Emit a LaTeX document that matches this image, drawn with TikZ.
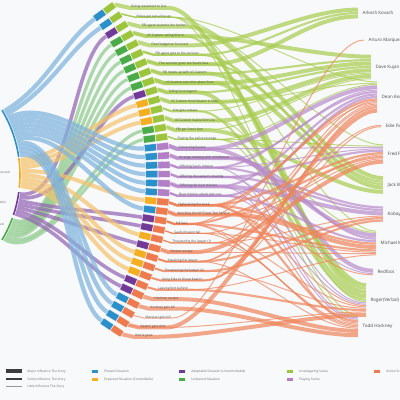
\documentclass[tikz,border=0pt]{standalone}
\usepackage{fontspec}
\setmainfont{Open Sans}
\usetikzlibrary{calc,positioning}

\definecolor{bgcol}{HTML}{F8F9FB}
\definecolor{sitP}{HTML}{2B8FCA}
\definecolor{sitE}{HTML}{F3AE22}
\definecolor{sitA}{HTML}{713A97}
\definecolor{sitU}{HTML}{4AAB47}
\definecolor{typI}{HTML}{9CC43C}
\definecolor{typY}{HTML}{B27EC6}
\definecolor{typX}{HTML}{EE7B4F}
\definecolor{flP}{HTML}{7FB3DD}
\definecolor{flE}{HTML}{F5C46C}
\definecolor{flA}{HTML}{9466B5}
\definecolor{flU}{HTML}{8FCB8C}
\definecolor{flI}{HTML}{A8CC4E}
\definecolor{flY}{HTML}{B88BCA}
\definecolor{flX}{HTML}{F0845A}
\definecolor{lbltext}{HTML}{4A4A4A}
\definecolor{legtext}{HTML}{6B6B6B}
\definecolor{legdark}{HTML}{3C3C3C}

\pgfdeclarelayer{back}
\pgfdeclarelayer{flows}
\pgfsetlayers{back,flows,main}

\tikzset{
  halfbox/.style={rectangle, minimum width=12pt, minimum height=7pt, inner sep=0pt, draw=white, line width=0.3pt},
  scenelbl/.style={anchor=west, inner sep=0.5pt, text=lbltext, font=\fontsize{3.2}{3.6}\selectfont},
  charlbl/.style={anchor=west, inner sep=0.5pt, text=lbltext, font=\fontsize{4.5}{5}\selectfont},
  arclbl/.style={anchor=east, inner sep=0pt, text=legtext, font=\fontsize{3.2}{3.6}\selectfont},
  legtxt/.style={inner sep=0pt, text=legtext, font=\fontsize{3.2}{3.6}\selectfont},
  swatch/.style={rectangle, minimum width=6pt, minimum height=3pt, inner sep=0pt},
  sitarc/.style={line width=1.6pt},
  leftflow/.style={opacity=0.72},
  bandP/.style={draw=flP, line width=4.2pt},
  bandE/.style={draw=flE, line width=4pt},
  bandA/.style={draw=flA, line width=3.6pt},
  bandU/.style={draw=flU, line width=3.2pt},
  rightflow/.style={line join=round, opacity=0.7},
}

% scene / character / weight (1 little, 2 some, 3 major)
\def\flowlist{1/K/3, 2/D/1, 2/F/1, 2/I/1, 2/L/1, 3/G/3, 4/C/3, 4/K/2,
  5/A/3, 6/A/2, 6/G/2, 7/A/3, 7/G/2, 8/C/2, 8/G/3, 9/C/3, 9/K/3,
  10/C/2, 10/K/3, 11/C/3, 11/D/1, 12/C/1, 12/K/2, 13/C/3, 13/K/1,
  14/C/1, 14/G/3, 15/D/1, 15/F/1, 15/I/1, 15/L/1, 16/D/3, 16/F/1, 16/I/3,
  17/D/1, 17/I/2, 17/J/3, 18/D/2, 18/F/1, 18/H/2, 18/L/1, 19/F/2, 19/H/2, 19/K/1,
  20/D/2, 20/H/3, 20/J/1, 20/L/1, 21/D/2, 21/I/2, 21/K/1,
  22/D/2, 22/F/2, 22/I/2, 22/K/1, 22/L/2, 23/D/1, 23/F/1, 23/I/3, 23/J/1, 23/L/1,
  24/D/1, 24/F/2, 24/I/2, 24/K/1, 24/L/1, 25/F/1, 25/I/1, 25/L/1,
  26/D/1, 26/H/1, 26/L/1, 27/F/3, 27/I/1, 28/D/1, 28/E/1, 28/H/2, 28/L/1,
  29/H/2, 29/K/1, 30/D/2, 30/E/1, 31/I/1, 31/K/2, 32/L/3, 33/L/3, 34/B/1,
  35/D/3, 35/K/1, 36/K/3}

\begin{document}
\begin{tikzpicture}[x=1pt,y=-1pt]
    \useasboundingbox (0,0) rectangle (400,400);
    \begin{pgfonlayer}{back}
        \fill[bgcol] (0,0) rectangle (400,400);
    \end{pgfonlayer}

    % Situation arc
    \begin{scope}[shift={(-106,175)}]
        \draw[sitarc, sitP] (-31:126) arc[start angle=-31, end angle=-8.2, radius=126];
        \draw[sitarc, sitE] (-7.7:126) arc[start angle=-7.7, end angle=5.9, radius=126];
        \draw[sitarc, sitA] (7.8:126) arc[start angle=7.8, end angle=18.5, radius=126];
        \draw[sitarc, sitU] (20:126) arc[start angle=20, end angle=31, radius=126];
    \end{scope}
    \node[arclbl] (lbE) at (10,173) {Expected};
    \node[arclbl] (lbA) at (6,203) {Adaptable};
    \node[arclbl] (lbU) at (4,225) {Unplaned};

    % Scenes
    \foreach \i/\sit/\typ/\ang/\txt in {
        1/P/I/-30.12/Giving statement to D.A.,
        2/P/I/-28.37/Police got out a line up,
        3/A/I/8.56/FBI agent examine the harbor,
        4/U/I/20.69/US Custom calling Kint in,
        5/U/I/22.06/One Hungarian Survived,
        6/U/I/23.44/FBI agent gets to the survivor,
        7/U/I/24.81/The survivor gives out Soze's face,
        8/U/I/26.19/FBI meets up with US Custom,
        9/U/I/27.56/US Custom asks Kint about Soze,
        10/A/I/10.09/Telling Soze legend,
        11/E/I/-6.85/US Custom think Keaton is Soze,
        12/E/I/-5.15/Kint gets release,
        13/E/I/-3.45/US Custom realize Kint's lie,
        14/U/I/28.94/FBI get Soze's face,
        15/U/I/30.31/Playing the police revenge,
        16/P/Y/-26.61/Contacting Keaton,
        17/P/Y/-24.86/Arrange meeting with middleman,
        18/P/Y/-23.10/Offering Saul's mission,
        19/P/Y/-21.35/Offering the lawyer's meeting,
        20/P/Y/-19.60/Offering the boat mission,
        21/P/Y/-17.84/Boat mission attack plan out,
        22/E/X/-1.75/Highjacking the truck,
        23/P/X/-16.09/Attacking the NY Finest Taxi Service,
        24/A/X/11.62/Kill Saul,
        25/A/X/13.15/Saul's mission fail,
        26/E/X/-0.05/Threatening the lawyer (1),
        27/A/X/14.68/Fenster escape,
        28/E/X/1.65/Attacking the lawyer,
        29/E/X/3.35/Threatening the lawyer (2),
        30/E/X/5.05/Using Edie to threat Keaton,
        31/A/X/16.21/Leaving Kint behind,
        32/A/X/17.74/Hockney escape,
        33/P/X/-14.33/Hockney gets kill,
        34/P/X/-12.58/Marquez gets kill,
        35/P/X/-10.83/Keaton gets shot,
        36/P/X/-9.07/Kint is gone} {
        \pgfmathsetmacro\sy{7+(\i-1)*9.4}
        \pgfmathsetmacro\cy{175+0.96*(\sy-175)-2}
        \pgfmathsetmacro\ps{asin((\cy-175)/276)}
        \pgfmathsetmacro\rt{-\ps}
        \pgfmathsetmacro\cx{-118+276*cos(\ps)}
        \pgfmathsetmacro\sx{-135+100*sqrt(3.14*3.14-((\sy-175)/100)^2)}
        \node[halfbox, fill=sit\sit, rotate=\rt, anchor=east] (a\i) at (\cx,\cy) {};
        \node[halfbox, fill=typ\typ, rotate=\rt, anchor=west] (b\i) at (\cx,\cy) {};
        \node[scenelbl] (t\i) at (\sx,\sy) {\txt};
        \coordinate (l\i) at ($(-106,175)+(\ang:127.5)$);
        \expandafter\xdef\csname ty\i\endcsname{\typ}
        \expandafter\xdef\csname st\i\endcsname{\sit}
        \expandafter\xdef\csname ps\i\endcsname{\ps}
        \expandafter\xdef\csname an\i\endcsname{\ang}
    }

    % Characters
    \foreach \ch/\x/\y/\name in {A/362/13/Arkosh Kovach, B/368/40/Arturo Marquez,
        C/375/67/Dave Kujan, D/381/97/Dean Keaton, E/385/126/Edie Finneran,
        F/387/154/Fred Fenster, G/387/185/Jack Baer, H/387/214/Kobayashi,
        I/380/243/Michael McManus, J/377/272/Redfoot, K/370/300/Roger(Verbal) Kint,
        L/362/326/Todd Hockney}
        \node[charlbl] (ch\ch) at (\x,\y) {\name};

    \begin{pgfonlayer}{flows}
        % Situation -> scene
        \foreach \i in {1,...,36} {
            \edef\st{\csname st\i\endcsname}
            \edef\ps{\csname ps\i\endcsname}
            \edef\ang{\csname an\i\endcsname}
            \draw[leftflow, band\st] (l\i) .. controls +(\ang:50) and +(\ps+180:40) .. (a\i.west);
        }
        % Scene -> character
        \foreach \ch in {A,B,C,D,E,F,G,H,I,J,K,L}
            \expandafter\xdef\csname tot\ch\endcsname{0};
        \foreach \sc/\ch/\w in \flowlist {
            \pgfmathsetmacro\lw{{0,1,2.2,4}[\w]}
            \pgfmathsetmacro\nt{\csname tot\ch\endcsname+\lw+0.3}
            \expandafter\xdef\csname tot\ch\endcsname{\nt}
        }
        \foreach \ch in {A,B,C,D,E,F,G,H,I,J,K,L} {
            \pgfmathsetmacro\nt{-(\csname tot\ch\endcsname-0.3)/2}
            \expandafter\xdef\csname acc\ch\endcsname{\nt}
        }
        \foreach \sc/\ch/\w in \flowlist {
            \pgfmathsetmacro\lw{{0,1,2.2,4}[\w]}
            \pgfmathsetmacro\md{\csname acc\ch\endcsname+\lw/2}
            \pgfmathsetmacro\nt{\csname acc\ch\endcsname+\lw+0.3}
            \expandafter\xdef\csname acc\ch\endcsname{\nt}
            \edef\ty{\csname ty\sc\endcsname}
            \draw[rightflow, draw=fl\ty, line width=\lw pt] (b\sc.east) -- ($(t\sc.west)+(-1,0.8)$)
                -- ($(t\sc.east)+(1,0.8)$) .. controls +(55,0) and +(-55,0) .. ($(ch\ch.west)+(-4,\md)$);
        }
    \end{pgfonlayer}

    % Legend
    \node[fill=legdark, minimum width=16pt, minimum height=4.4pt, inner sep=0pt] (lgMajor) at (14,371.2) {};
    \node[fill=legdark, minimum width=16pt, minimum height=2.2pt, inner sep=0pt] (lgSome) at (14,379.2) {};
    \node[fill=legtext!70, minimum width=16pt, minimum height=0.6pt, inner sep=0pt] (lgLittle) at (14,386.5) {};
    \node[legtxt, right=5pt of lgMajor] {Major Influence The Story};
    \node[legtxt, right=5pt of lgSome] {Some Influence The Story};
    \node[legtxt, right=5pt of lgLittle] {Little Influence The Story};

    \node[swatch, fill=sitP] (swP) at (95,371.5) {};
    \node[swatch, fill=sitE] (swE) at (95,379.5) {};
    \node[swatch, fill=sitA] (swA) at (182,371.5) {};
    \node[swatch, fill=sitU] (swU) at (182,379.5) {};
    \node[swatch, fill=typI] (swI) at (290,371.5) {};
    \node[swatch, fill=typY] (swY) at (290,379.5) {};
    \node[swatch, fill=typX] (swX) at (377,371.5) {};
    \node[legtxt, right=6pt of swP] {Planed Situation};
    \node[legtxt, right=6pt of swE] {Expected Situation (Controllable)};
    \node[legtxt, right=6pt of swA] {Adaptable Situation (Uncontrollable)};
    \node[legtxt, right=6pt of swU] {Unplaned Situation};
    \node[legtxt, right=6pt of swI] {Investigating Scene};
    \node[legtxt, right=6pt of swY] {Playing Scene};
    \node[legtxt, right=6pt of swX] {Action Scene};
\end{tikzpicture}
\end{document}
